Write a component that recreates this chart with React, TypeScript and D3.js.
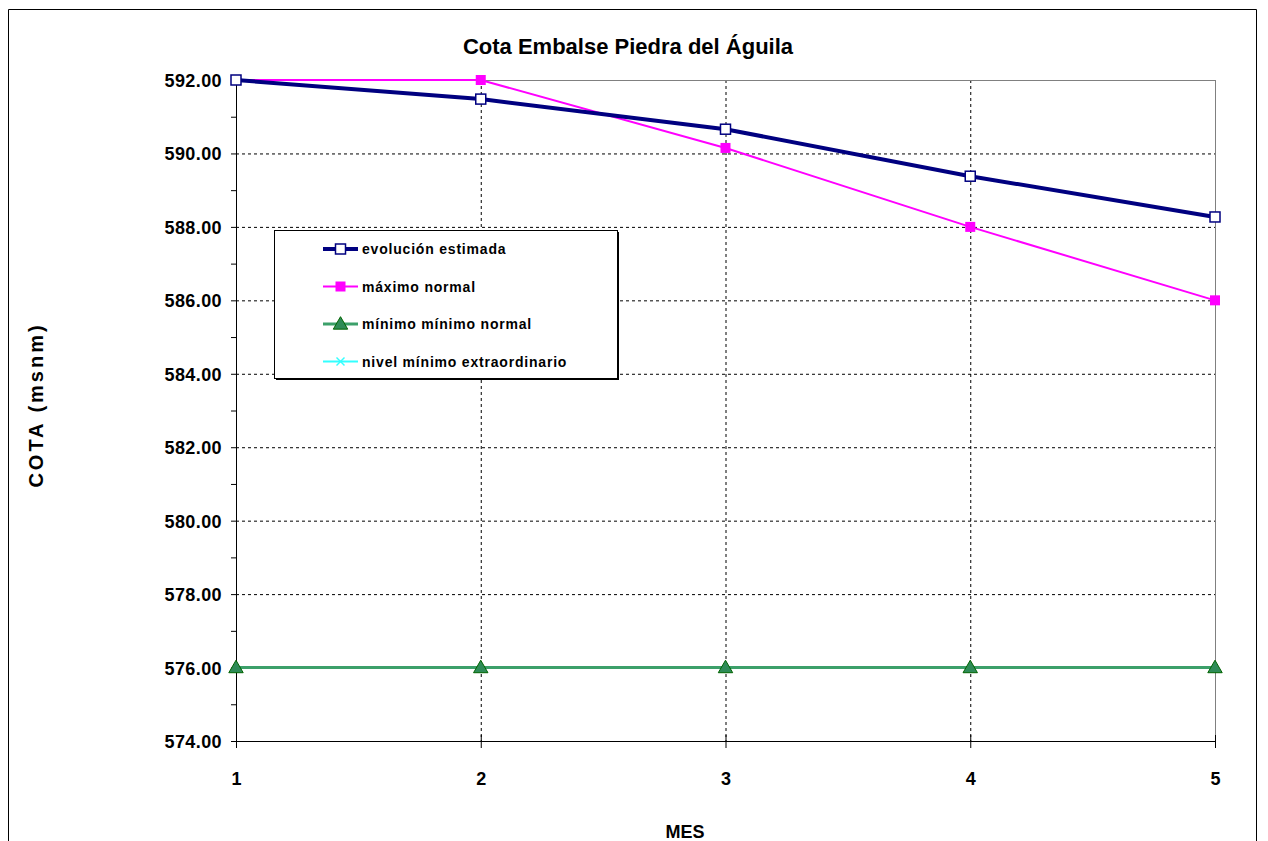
import React from "react";
import * as d3 from "d3";

const months = [1, 2, 3, 4, 5];
const evolucionEstimada = [592.0, 591.48, 590.66, 589.38, 588.27];
const maximoNormal = [592.0, 592.0, 590.15, 588.0, 586.0];
const minimoNormal = [576.0, 576.0, 576.0, 576.0, 576.0];
const nivelMinimoExtra = [563.0, 563.0, 563.0, 563.0, 563.0];
const yTicks = [574, 576, 578, 580, 582, 584, 586, 588, 590, 592];
const yMinorTicks = [575, 577, 579, 581, 583, 585, 587, 589, 591];
const legendLabels = [
  "evolución estimada",
  "máximo normal",
  "mínimo mínimo normal",
  "nivel mínimo extraordinario",
];

const W = 1260;
const H = 833;
const font = "Arial, 'Liberation Sans', sans-serif";

const App = () => {
  const x = d3.scaleLinear().domain([1, 5]).range([228, 1207]);
  const y = d3.scaleLinear().domain([574, 592]).range([733, 72]);
  const [x0, x1] = x.range();
  const [y0, y1] = y.range();

  const line = d3
    .line<number>()
    .x((d, i) => x(months[i]))
    .y((d) => y(d));

  const tri = d3.symbol().type(d3.symbolTriangle).size(90)();

  // symbols used in plot and legend
  const marker = (k: number, cx: number, cy: number, key: string) => {
    if (k === 0)
      return (
        <rect key={key} x={cx - 5} y={cy - 5} width={10} height={10}
          fill="#fff" stroke="#000080" strokeWidth={1.5} />
      );
    if (k === 1)
      return (
        <rect key={key} x={cx - 5} y={cy - 5} width={10} height={10} fill="#FF00FF" />
      );
    if (k === 2)
      return (
        <path key={key} d={tri!} transform={`translate(${cx},${cy + 1})`}
          fill="#2E8B57" stroke="#006400" strokeWidth={1} />
      );
    return (
      <g key={key} stroke="#33FFFF" strokeWidth={1.5}>
        <line x1={cx - 4} y1={cy - 4} x2={cx + 4} y2={cy + 4} />
        <line x1={cx - 4} y1={cy + 4} x2={cx + 4} y2={cy - 4} />
      </g>
    );
  };

  const series = [
    { data: evolucionEstimada, color: "#000080", width: 4 },
    { data: maximoNormal, color: "#FF00FF", width: 2 },
    { data: minimoNormal, color: "#3CA06A", width: 3 },
    { data: nivelMinimoExtra, color: "#33FFFF", width: 2 },
  ];

  return (
    <svg width={W} height={H} style={{ display: "block", fontFamily: font }}>
      {/* chart frame */}
      <path d={`M0.5,${H + 5} V1.5 H${W - 11.5} V${H + 5}`} fill="none" stroke="#000" strokeWidth={1} />

      <text x={620} y={46} textAnchor="middle" fontSize={22} fontWeight="bold">
        Cota Embalse Piedra del Águila
      </text>

      <clipPath id="plotClip">
        <rect x={x0 - 8} y={y1 - 8} width={x1 - x0 + 16} height={y0 - y1 + 16} />
      </clipPath>

      {/* grid */}
      {yTicks.filter((t) => t !== 574 && t !== 592).map((t) => (
        <line key={"gy" + t} x1={x0} x2={x1} y1={y(t) + 0.5} y2={y(t) + 0.5}
          stroke="#000" strokeDasharray="3,3" />
      ))}
      {months.filter((m) => m !== 1 && m !== 5).map((m) => (
        <line key={"gx" + m} x1={x(m) + 0.5} x2={x(m) + 0.5} y1={y1} y2={y0}
          stroke="#000" strokeDasharray="3,3" />
      ))}
      {/* plot border */}
      <line x1={x0} x2={x1} y1={y1 + 0.5} y2={y1 + 0.5} stroke="#808080" />
      <line x1={x1 + 0.5} x2={x1 + 0.5} y1={y1} y2={y0} stroke="#808080" />

      {/* axes */}
      <line x1={x0 + 0.5} x2={x0 + 0.5} y1={y1} y2={y0} stroke="#000" />
      <line x1={x0} x2={x1 + 1} y1={y0 + 0.5} y2={y0 + 0.5} stroke="#000" />
      {yTicks.map((t) => (
        <g key={"yt" + t}>
          <line x1={x0 - 5} x2={x0} y1={y(t) + 0.5} y2={y(t) + 0.5} stroke="#000" />
          <text x={x0 - 14} y={y(t) + 7} textAnchor="end" fontSize={18} fontWeight="bold"
            letterSpacing={0.4}>
            {d3.format(".2f")(t)}
          </text>
        </g>
      ))}
      {yMinorTicks.map((t) => (
        <line key={"ym" + t} x1={x0 - 5} x2={x0} y1={y(t) + 0.5} y2={y(t) + 0.5} stroke="#000" />
      ))}
      {months.map((m) => (
        <g key={"xt" + m}>
          <line x1={x(m) + 0.5} x2={x(m) + 0.5} y1={y0 - 6} y2={y0 + 7} stroke="#000" />
          <text x={x(m) + 0.5} y={777} textAnchor="middle" fontSize={18} fontWeight="bold">
            {m}
          </text>
        </g>
      ))}

      <text x={677} y={830} textAnchor="middle" fontSize={18} fontWeight="bold">MES</text>
      <text transform={`translate(35,397) rotate(-90)`} textAnchor="middle" fontSize={20}
        fontWeight="bold" letterSpacing={3}>
        COTA (msnm)
      </text>

      {/* series */}
      <g clipPath="url(#plotClip)">
        {[3, 2, 1, 0].map((k) => (
          <g key={"s" + k}>
            <path d={line(series[k].data)!} fill="none" stroke={series[k].color}
              strokeWidth={series[k].width} />
            {series[k].data.map((v, i) => marker(k, x(months[i]), y(v), `m${k}-${i}`))}
          </g>
        ))}
      </g>

      {/* legend */}
      <g>
        <rect x={266.5} y={222.5} width={343} height={148} fill="#fff" stroke="#000" />
        <line x1={268} x2={611} y1={371.5} y2={371.5} stroke="#000" />
        <line x1={610.5} x2={610.5} y1={224} y2={372} stroke="#000" />
        {legendLabels.map((lab, k) => {
          const cy = 241 + k * 37.5;
          return (
            <g key={"lg" + k}>
              <line x1={315} x2={350} y1={cy} y2={cy} stroke={series[k].color}
                strokeWidth={series[k].width} />
              {marker(k, 332.5, cy, "lm" + k)}
              <text x={354} y={cy + 5} fontSize={14} fontWeight="bold" letterSpacing={0.8}>
                {lab}
              </text>
            </g>
          );
        })}
      </g>
    </svg>
  );
};

export default App;
